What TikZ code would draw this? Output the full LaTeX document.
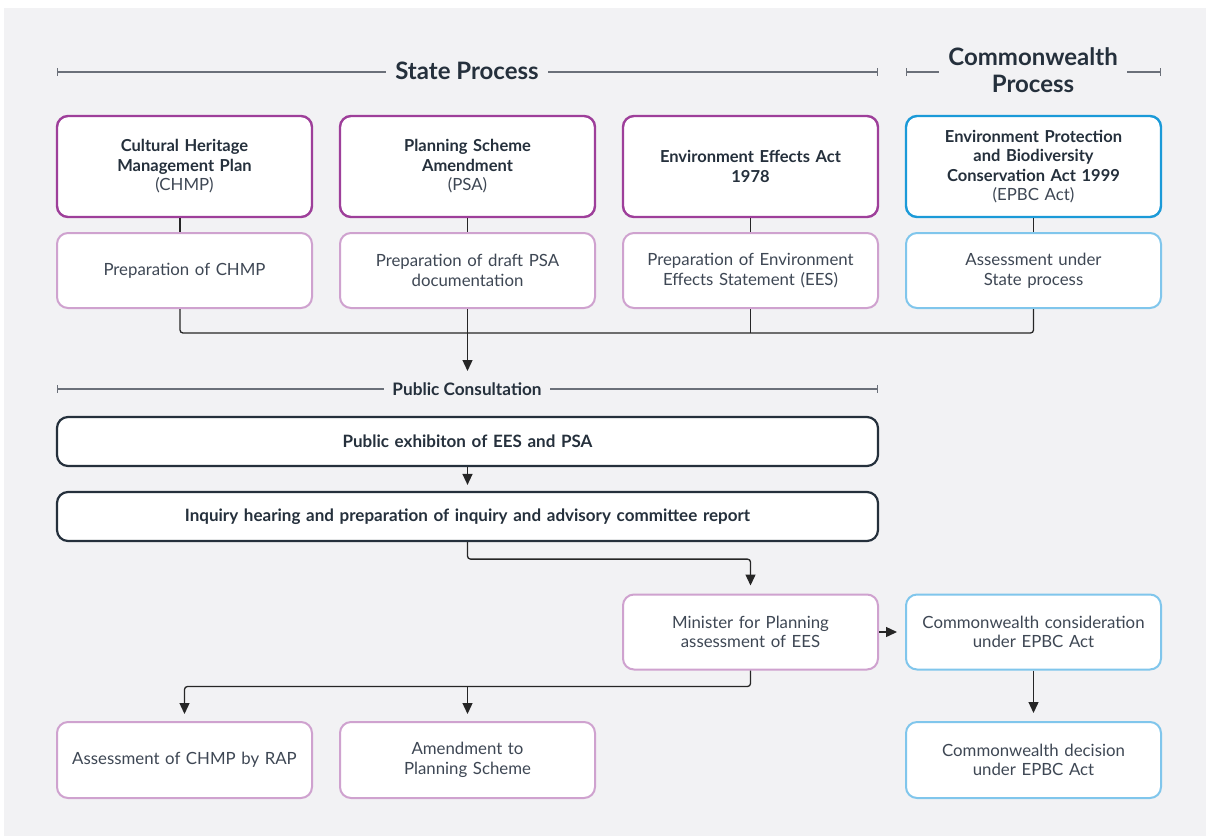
\documentclass[tikz,border=0pt]{standalone}
\usepackage{fontspec}
\setmainfont{Lato}
\usetikzlibrary{arrows.meta}
\definecolor{bg}{HTML}{F2F2F4}
\definecolor{ink}{HTML}{25303C}
\definecolor{soft}{HTML}{3E4754}
\definecolor{purp}{HTML}{9E3F9A}
\definecolor{lpurp}{HTML}{CFA2CF}
\definecolor{blu}{HTML}{1B9AD8}
\definecolor{lblu}{HTML}{80C6EC}
\definecolor{rule}{HTML}{6B7079}
\tikzset{
  basebox/.style={rounded corners=11pt, fill=white, align=center, inner sep=0pt,
    minimum width=255pt, text width=245pt, text=soft,
    font=\fontsize{16.8}{19.5}\selectfont},
  topP/.style={basebox, draw=purp, line width=2.4pt, minimum height=101pt},
  topB/.style={basebox, draw=blu, line width=2.4pt, minimum height=101pt},
  subP/.style={basebox, draw=lpurp, line width=2pt, minimum height=75pt},
  subB/.style={basebox, draw=lblu, line width=2pt, minimum height=75pt},
  wide/.style={basebox, draw=ink, line width=2.2pt, minimum width=821pt, text width=800pt,
    minimum height=49pt, text=ink, font=\bfseries\fontsize{17}{19.5}\selectfont},
  conn/.style={draw=black!85, line width=1.3pt},
  arr/.style={conn, -{Triangle[length=11pt,width=10pt]}},
  hdr/.style={fill=bg, text=ink, inner xsep=9pt, font=\bfseries\fontsize{24}{27}\selectfont, align=center},
  hrule/.style={draw=rule, line width=1.1pt, |-|},
}
\newcommand{\ttl}[1]{{\bfseries\color{ink}\fontsize{16.5}{19.5}\selectfont#1}}
\begin{document}
\begin{tikzpicture}[x=1pt,y=-1pt]
\fill[white] (0,0) rectangle (1206,836);
\fill[bg] (4,8) rectangle (1206,836);
% header rules
\draw[hrule] (57,72) -- (878,72);
\draw[hrule] (906,72) -- (1161,72);
\node[hdr] (state) at (467,71) {State Process};
\node[hdr] (cw) at (1033,70) {Commonwealth\\Process};
% top row
\node[topP] (chmp) at (184.5,166.5) {\ttl{Cultural Heritage\\Management Plan}\\(CHMP)};
\node[topP] (psa) at (467.5,166.5) {\ttl{Planning Scheme\\Amendment}\\(PSA)};
\node[topP] (eea) at (750.5,166.5) {\ttl{Environment Effects Act\\1978}};
\node[topB] (epbc) at (1033.5,166.5) {\ttl{Environment Protection\\and Biodiversity\\Conservation Act 1999}\\(EPBC Act)};
% second row
\node[subP] (pchmp) at (184.5,270.5) {Preparation of CHMP};
\node[subP] (ppsa) at (467.5,270.5) {Preparation of draft PSA\\documentation};
\node[subP] (pees) at (750.5,270.5) {Preparation of Environment\\Effects Statement (EES)};
\node[subB] (asst) at (1033.5,270.5) {Assessment under\\State process};
% links top->second
\draw[conn] ([xshift=-4.5pt]chmp.south) -- ([xshift=-4.5pt]pchmp.north);
\draw[conn] (psa.south) -- (ppsa.north);
\draw[conn] (eea.south) -- (pees.north);
\draw[conn] (epbc.south) -- (asst.north);
% merge
\coordinate (m) at (467.5,333);
\coordinate (pcarrow) at (467.5,371);
\draw[conn, rounded corners=3pt] ([xshift=-4.5pt]pchmp.south) |- (m -| asst.south) -- (asst.south);
\draw[conn] (pees.south) -- (pees.south |- m);
\draw[arr] (ppsa.south) -- (pcarrow);
% public consultation
\draw[hrule] (57,389) -- (878,389);
\node[fill=bg, text=ink, inner xsep=8pt, font=\bfseries\fontsize{17.2}{20}\selectfont] (pc) at (467,389) {Public Consultation};
\node[wide] (exh) at (467.5,441.5) {Public exhibiton of EES and PSA};
\node[wide] (inq) at (467.5,516.5) {Inquiry hearing and preparation of inquiry and advisory committee report};
\draw[arr, shorten >=6pt] (exh.south) -- (inq.north);
% minister
\node[subP] (min) at (750.5,632) {Minister for Planning\\assessment of EES};
\node[subB] (cons) at (1033.5,632) {Commonwealth consideration\\under EPBC Act};
\draw[arr, shorten >=8pt, rounded corners=3pt] (inq.south) -- ++(0,17) -| (min.north);
\draw[arr, shorten >=8pt] (min.east) -- (cons.west);
% bottom row
\node[subP, minimum height=76pt] (rap) at (184.5,760) {Assessment of CHMP by RAP};
\node[subP, minimum height=76pt] (amd) at (467.5,760) {Amendment to\\Planning Scheme};
\node[subB, minimum height=76pt] (dec) at (1033.5,760) {Commonwealth decision\\under EPBC Act};
\draw[arr, shorten >=7pt, rounded corners=3pt] (min.south) -- ++(0,16) coordinate (j) -| (rap.north);
\draw[arr, shorten >=7pt] (j -| amd.north) -- (amd.north);
\draw[arr, shorten >=8pt] (cons.south) -- (dec.north);
\end{tikzpicture}
\end{document}
